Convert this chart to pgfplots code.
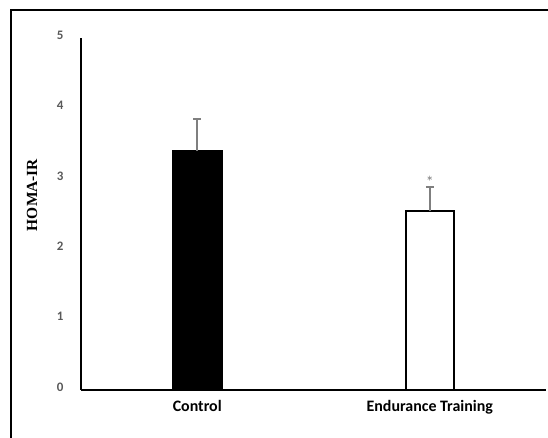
\documentclass[border=0pt]{standalone}
\usepackage{pgfplots}
\pgfplotsset{compat=1.18}
\usepackage{fontspec}
\setmainfont{Carlito}
\newfontfamily\tnr{Liberation Serif}
\definecolor{ticklab}{HTML}{595959}
\definecolor{errgray}{HTML}{7F7F7F}
\begin{document}
\begin{tikzpicture}
\useasboundingbox (0,0) rectangle (548bp,438bp);
\draw[black, line width=1.6bp] (11bp,0) -- (11bp,428bp) -- (548bp,428bp);
\begin{axis}[
  at={(81bp,48bp)}, anchor=south west,
  scale only axis, width=465bp, height=352bp,
  xmin=0.5, xmax=2.5, ymin=0, ymax=5,
  axis x line*=bottom, axis y line*=left,
  axis line style={black, line width=1.3bp, -},
  xtick={1,2}, xticklabels={Control, Endurance Training},
  ytick={0,1,2,3,4,5},
  major tick length=0pt,
  /pgf/number format/assume math mode=true,
  yticklabel style={font=\fontsize{13}{15}\selectfont\bfseries, text=ticklab, xshift=-14bp, yshift=3bp},
  xticklabel style={font=\fontsize{16}{19}\selectfont\bfseries, text=black, yshift=-7bp},
  ylabel={HOMA-IR},
  ylabel style={font=\fontsize{15.5}{18}\selectfont\tnr\bfseries, at={(axis description cs:-0.105,0.554)}, rotate=0, anchor=center},
  clip=false,
]
\addplot[ybar, bar width=50bp, fill=black, draw=black, line width=1.2bp,
  error bars/.cd, y dir=plus, y explicit,
  error bar style={errgray, line width=1.6bp},
  error mark options={errgray, rotate=90, mark size=4bp, line width=1.6bp}]
  coordinates {(1,3.40) +- (0,0.45)};
\addplot[ybar, bar width=48bp, fill=white, draw=black, line width=1.6bp,
  error bars/.cd, y dir=plus, y explicit,
  error bar style={errgray, line width=1.6bp},
  error mark options={errgray, rotate=90, mark size=4bp, line width=1.6bp}]
  coordinates {(2,2.54) +- (0,0.34)};
\node[font=\fontsize{16}{18}\selectfont, text=errgray] at (axis cs:2,2.96) {*};
\end{axis}
\end{tikzpicture}
\end{document}
